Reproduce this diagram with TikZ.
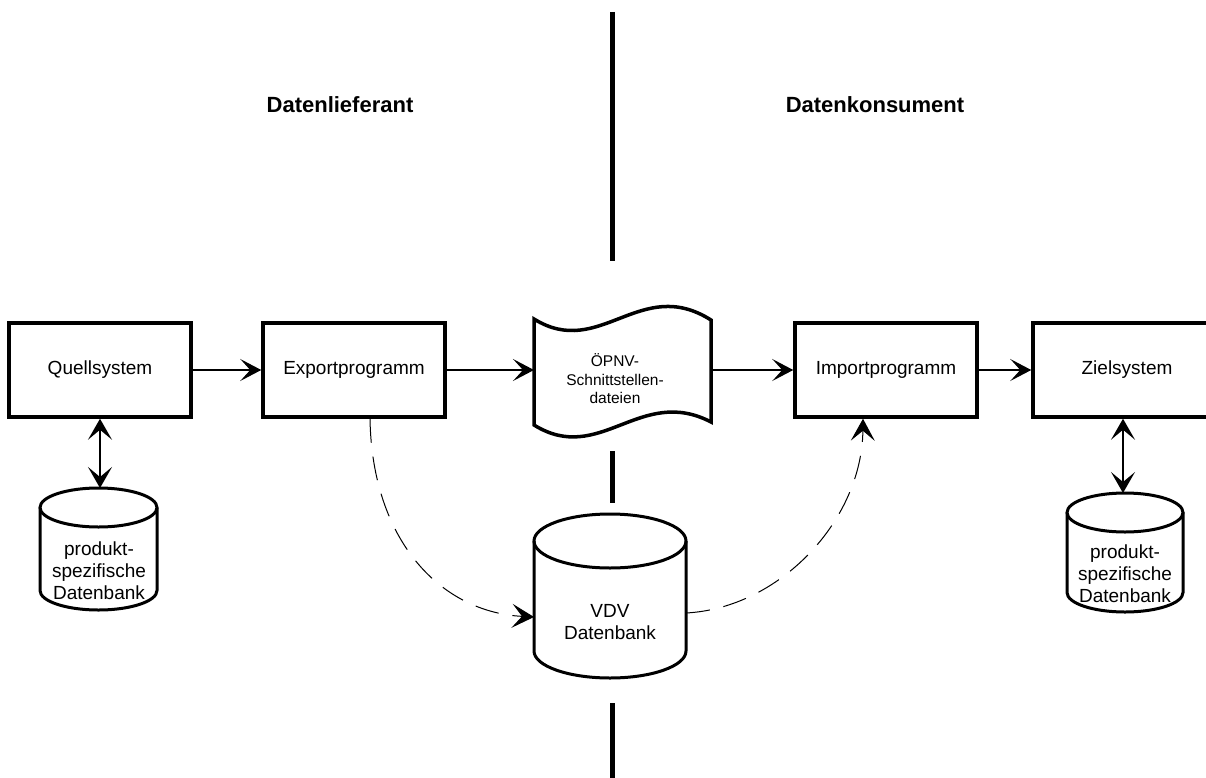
\documentclass[tikz,border=0pt]{standalone}
\usepackage{fontspec}
\setmainfont{Liberation Sans}
\usetikzlibrary{arrows.meta,calc}
\begin{document}
\begin{tikzpicture}[x=1pt,y=-1pt,
  box/.style={draw, line width=3.5pt, minimum width=182pt, minimum height=94pt, inner sep=0pt, font=\fontsize{19}{22}\selectfont},
  ghost/.style={inner sep=0pt, outer sep=0pt},
  txt/.style={align=center, inner sep=0pt, font=\fontsize{19}{22}\selectfont},
  doctxt/.style={align=center, inner sep=0pt, font=\fontsize{15.5}{18.5}\selectfont},
  hdr/.style={inner sep=0pt, font=\bfseries\fontsize{22}{26}\selectfont},
  outline/.style={line width=3pt},
  divider/.style={line width=5pt},
  conn/.style={line width=1.2pt, -{Stealth[length=21pt,width=22pt,inset=10pt]}},
  dblconn/.style={line width=1.2pt, {Stealth[length=21pt,width=24pt,inset=10pt]}-{Stealth[length=21pt,width=24pt,inset=10pt]}},
  dashconn/.style={line width=1pt, dash pattern=on 24pt off 14pt, -{Stealth[length=22pt,width=24pt,inset=10pt]}}
]
\useasboundingbox (0,0) rectangle (1206,778);
\clip (0,0) rectangle (1206,778);

% divider
\draw[divider] (612,12) -- (612,261);
\draw[divider] (612,451) -- (612,503);
\draw[divider] (612,703) -- (612,790);

% headers
\node[hdr] (hl) at (340,105) {Datenlieferant};
\node[hdr] (hr) at (875,105) {Datenkonsument};

% boxes
\node[box] (q) at (100,370) {Quellsystem};
\node[box] (exp) at (354,370) {Exportprogramm};
\node[box] (imp) at (886,370) {Importprogramm};
\node[box, minimum width=188pt] (z) at (1127,370) {Zielsystem};

% document (wave)
\draw[line width=3.5pt, line join=miter] (534,319) .. controls (600,360) and (640,275) .. (711,320)
  -- (711,422) .. controls (640,385) and (600,466) .. (534,425) -- cycle;
\node[ghost, minimum width=177pt, minimum height=100pt] (doc) at (622.5,370) {};
\node[doctxt] (doct) at (615,379) {ÖPNV-\\Schnittstellen-\\dateien};

% cylinders
\draw[outline] (98.5,507.5) ellipse [x radius=58.5pt, y radius=19.5pt];
\draw[outline] (40,507.5) -- (40,590.5) arc[start angle=180, end angle=360, x radius=58.5pt, y radius=19.5pt] -- (157,507.5);
\node[ghost, minimum width=117pt, minimum height=122pt] (db1) at (98.5,549) {};
\node[txt] (db1t) at (99,571) {produkt-\\spezifische\\Datenbank};

\draw[outline] (610,541) ellipse [x radius=76pt, y radius=27pt];
\draw[outline] (534,541) -- (534,651) arc[start angle=180, end angle=360, x radius=76pt, y radius=27pt] -- (686,541);
\node[ghost, minimum width=152pt, minimum height=164pt] (vdv) at (610,596) {};
\node[txt] (vdvt) at (610,622) {VDV\\Datenbank};

\draw[outline] (1125,512.5) ellipse [x radius=58pt, y radius=19.5pt];
\draw[outline] (1067,512.5) -- (1067,592.5) arc[start angle=180, end angle=360, x radius=58pt, y radius=19.5pt] -- (1183,512.5);
\node[ghost, minimum width=116pt, minimum height=119pt] (db2) at (1125,552.5) {};
\node[txt] (db2t) at (1125,574) {produkt-\\spezifische\\Datenbank};

% connectors
\draw[conn] (q.east) -- (exp.west);
\draw[conn] (exp.east) -- (doc.west);
\draw[conn] (doc.east) -- (imp.west);
\draw[conn] (imp.east) -- (z.west);

\draw[dblconn] (q.south) -- (q.south |- db1.north);
\draw[dblconn] ([xshift=-4pt]z.south) -- ([xshift=-4pt]z.south |- db2.north);

\draw[dashconn] ($(exp.south)+(16,0)$) .. controls (372,540) and (440,612) .. ($(vdv.west)+(0,21)$);
\draw[dashconn] ($(vdv.east)+(0,17)$) .. controls (780,608) and (862,520) .. ($(imp.south)+(-23,0)$);
\end{tikzpicture}
\end{document}
